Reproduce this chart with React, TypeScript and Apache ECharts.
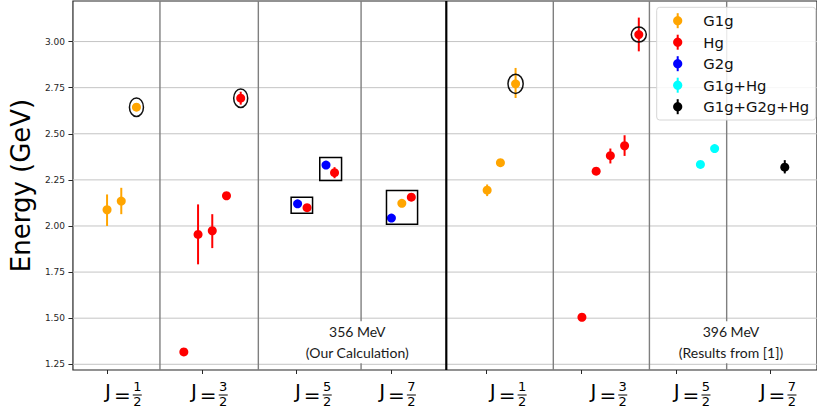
import React, { useEffect, useRef } from "react";
import * as echarts from "echarts";

// ---------- axes ----------
const xRange = [-0.36, 7.49];
const yRange = [1.219, 3.22];
const xTickValues = [0, 1, 2, 3, 4, 5, 6, 7];
const xLabelAnchor = [-0.021, 0.886, 1.983, 2.871, 4.039, 5.101, 5.979, 6.886];
const xLabelNumerators = ["1", "3", "5", "7", "1", "3", "5", "7"];
const xLabelDenominator = "2";
const yTickValues = [1.25, 1.5, 1.75, 2.0, 2.25, 2.5, 2.75, 3.0];
const separatorX = [0.558, 1.596, 2.68, 3.579, 4.708, 5.722, 6.537];
const thickSeparatorIndex = 3;

// ---------- series ----------
const seriesNames = ["G1g", "Hg", "G2g", "G1g+Hg", "G1g+G2g+Hg"];

const g1gX = [0.0, 0.15, 0.31, 3.11, 4.01, 4.15, 4.31];
const g1gY = [2.088, 2.135, 2.644, 2.123, 2.194, 2.343, 2.771];
const g1gLo = [2.0, 2.064, null, null, 2.162, null, 2.694];
const g1gHi = [2.171, 2.207, null, null, 2.225, null, 2.857];

const hgX = [0.81, 0.96, 1.11, 1.26, 1.41, 2.11, 2.4, 3.21, 5.01, 5.16, 5.31, 5.46, 5.61];
const hgY = [1.317, 1.954, 1.974, 2.164, 2.693, 2.099, 2.289, 2.156, 1.505, 2.297, 2.381, 2.435, 3.038];
const hgLo = [null, 1.792, 1.88, null, 2.658, null, 2.259, null, null, null, 2.339, 2.38, 2.947];
const hgHi = [null, 2.117, 2.064, null, 2.728, null, 2.319, null, null, null, 2.42, 2.492, 3.13];

const g2gX = [2.01, 2.31, 3.0];
const g2gY = [2.12, 2.33, 2.043];
const g2gLo = [null, null, null];
const g2gHi = [null, null, null];

const g1gHgX = [6.26, 6.41];
const g1gHgY = [2.334, 2.42];
const g1gHgLo = [null, null];
const g1gHgHi = [null, null];

const allX = [7.15];
const allY = [2.319];
const allLo = [2.285];
const allHi = [2.357];

// highlighted points (rings) and boxes, in data units
const ringCenters = [
  [0.31, 2.644],
  [1.41, 2.693],
  [4.31, 2.771],
  [5.61, 3.038],
];
const boxes = [
  // x0, y0, x1, y1
  [1.942, 2.069, 2.168, 2.156],
  [2.244, 2.246, 2.474, 2.371],
  [2.948, 2.01, 3.276, 2.193],
];

// annotations
const annotX = [2.64, 6.582];
const annotY = [1.369, 1.369];
const annotTexts = [
  ["356 MeV", "(Our Calculation)"],
  ["396 MeV", "(Results from [1])"],
];

// ---------- styles ----------
const COLORS = ["#ffa500", "#ff0000", "#0000ff", "#00ffff", "#000000"];
const RING_SIZES = [
  [7, 9.3],
  [7, 9.3],
  [7.6, 9.6],
  [7.5, 7.5],
];
const FONT = "DejaVu Sans";
const LEGEND_BOX = { x: 656.7, y: 7.3, w: 159, h: 112.7 };
const LEGEND_MARKER_X = 677.7;
const LEGEND_TEXT_X = 703.3;
const LEGEND_ROW0 = 20.7;
const LEGEND_ROW_STEP = 21.5;
const LEGEND_Z = 100;

const seriesX = [g1gX, hgX, g2gX, g1gHgX, allX];
const seriesY = [g1gY, hgY, g2gY, g1gHgY, allY];
const seriesLo = [g1gLo, hgLo, g2gLo, g1gHgLo, allLo];
const seriesHi = [g1gHi, hgHi, g2gHi, g1gHgHi, allHi];

export default function App() {
  const ref = useRef<HTMLDivElement>(null);

  useEffect(() => {
    if (!ref.current) return;
    const chart = echarts.init(ref.current, undefined, { renderer: "svg" });

    const errData: number[][] = [];
    const errColor: string[] = [];
    seriesX.forEach((xs, s) => {
      xs.forEach((x, i) => {
        const lo = seriesLo[s][i];
        const hi = seriesHi[s][i];
        if (lo != null && hi != null) {
          errData.push([x, lo, hi]);
          errColor.push(COLORS[s]);
        }
      });
    });

    const scatterSeries = seriesNames.map((name, s) => ({
      name,
      type: "scatter",
      data: seriesX[s].map((x, i) => [x, seriesY[s][i]]),
      symbol: "circle",
      symbolSize: 9,
      itemStyle: { color: COLORS[s], opacity: 1 },
      silent: true,
      z: 6,
    }));

    // legend drawn as graphic elements
    const legendChildren: any[] = [
      {
        type: "rect",
        z: LEGEND_Z,
        shape: { x: LEGEND_BOX.x, y: LEGEND_BOX.y, width: LEGEND_BOX.w, height: LEGEND_BOX.h, r: 3 },
        style: { fill: "rgba(255,255,255,0.85)", stroke: "#d6d6d6", lineWidth: 1 },
      },
    ];
    seriesNames.forEach((name, i) => {
      const cy = LEGEND_ROW0 + i * LEGEND_ROW_STEP;
      legendChildren.push(
        {
          type: "line",
          z: LEGEND_Z + 1,
          shape: { x1: LEGEND_MARKER_X, y1: cy - 7.5, x2: LEGEND_MARKER_X, y2: cy + 7.5 },
          style: { stroke: COLORS[i], lineWidth: 2 },
        },
        {
          type: "circle",
          z: LEGEND_Z + 2,
          shape: { cx: LEGEND_MARKER_X, cy, r: 4.6 },
          style: { fill: COLORS[i] },
        },
        {
          type: "text",
          z: LEGEND_Z + 2,
          x: LEGEND_TEXT_X,
          y: cy,
          style: {
            text: name,
            fontFamily: FONT,
            fontSize: 14.8,
            fill: "#111",
            align: "left",
            verticalAlign: "middle",
          },
        }
      );
    });

    const option: any = {
      animation: false,
      textStyle: { fontFamily: FONT },
      grid: {
        left: 71,
        top: 1,
        width: 751,
        height: 369,
        show: true,
        borderColor: "#262626",
        borderWidth: 1.2,
        backgroundColor: "#fff",
      },
      graphic: { elements: legendChildren.map((e) => ({ ...e, silent: true })) },
      xAxis: {
        type: "value",
        min: xRange[0],
        max: xRange[1],
        axisLine: { show: false, onZero: false },
        axisTick: {
          show: true,
          customValues: xTickValues,
          length: 4,
          lineStyle: { color: "#262626", width: 1 },
        },
        axisLabel: { show: false },
        splitLine: { show: false },
      },
      yAxis: {
        type: "value",
        min: yRange[0],
        max: yRange[1],
        name: "Energy (GeV)",
        nameLocation: "middle",
        nameGap: 36,
        nameTextStyle: { fontSize: 26, color: "#000", fontFamily: FONT },
        axisLine: { show: false, onZero: false },
        axisTick: {
          show: true,
          customValues: yTickValues,
          length: 4.5,
          lineStyle: { color: "#262626", width: 1 },
        },
        axisLabel: {
          customValues: yTickValues,
          formatter: (v: number) => v.toFixed(2),
          fontSize: 9,
          color: "#262626",
          margin: 8,
          fontFamily: FONT,
        },
        splitLine: { show: false },
      },
      series: [
        // horizontal grid lines
        {
          type: "custom",
          silent: true,
          z: 1,
          data: yTickValues.map((v) => [xRange[0], v]),
          encode: { x: 0, y: 1 },
          renderItem: (params: any, api: any) => {
            const cs = params.coordSys;
            const p = api.coord([xRange[0], api.value(1)]);
            return {
              type: "line",
              shape: { x1: cs.x, y1: p[1], x2: cs.x + cs.width, y2: p[1] },
              style: { stroke: "#c4c4c4", lineWidth: 1 },
            };
          },
        },
        // vertical separators
        {
          type: "custom",
          silent: true,
          z: 2,
          data: separatorX.map((v) => [v, yRange[0]]),
          encode: { x: 0, y: 1 },
          renderItem: (params: any, api: any) => {
            const cs = params.coordSys;
            const p = api.coord([api.value(0), yRange[0]]);
            const thick = params.dataIndex === thickSeparatorIndex;
            return {
              type: "line",
              shape: { x1: p[0], y1: cs.y, x2: p[0], y2: cs.y + cs.height },
              style: { stroke: thick ? "#000" : "#7f7f7f", lineWidth: thick ? 2.2 : 1.4 },
            };
          },
        },
        // annotation texts
        {
          type: "custom",
          silent: true,
          z: 3,
          data: annotX.map((x, i) => [x, annotY[i]]),
          encode: { x: 0, y: 1 },
          renderItem: (params: any, api: any) => {
            const p = api.coord([api.value(0), api.value(1)]);
            const t = annotTexts[params.dataIndex];
            return {
              type: "text",
              x: p[0],
              y: p[1],
              style: {
                text: t[0] + "\n" + t[1],
                fontFamily: "Lato",
                fontSize: 14,
                lineHeight: 21,
                fill: "#1a1a1a",
                align: "center",
                verticalAlign: "middle",
                backgroundColor: "#fff",
                padding: [0, 4],
              },
            };
          },
        },
        // error bars
        {
          type: "custom",
          silent: true,
          z: 5,
          data: errData,
          encode: { x: 0, y: [1, 2] },
          renderItem: (params: any, api: any) => {
            const a = api.coord([api.value(0), api.value(1)]);
            const b = api.coord([api.value(0), api.value(2)]);
            return {
              type: "line",
              shape: { x1: a[0], y1: a[1], x2: b[0], y2: b[1] },
              style: { stroke: errColor[params.dataIndex], lineWidth: 2 },
            };
          },
        },
        ...scatterSeries,
        // rings
        {
          type: "custom",
          silent: true,
          z: 7,
          data: ringCenters,
          encode: { x: 0, y: 1 },
          renderItem: (params: any, api: any) => {
            const p = api.coord([api.value(0), api.value(1)]);
            const s = RING_SIZES[params.dataIndex];
            return {
              type: "ellipse",
              shape: { cx: p[0], cy: p[1], rx: s[0], ry: s[1] },
              style: { fill: "none", stroke: "#111", lineWidth: 1.5 },
            };
          },
        },
        // boxes
        {
          type: "custom",
          silent: true,
          z: 7,
          data: boxes,
          encode: { x: [0, 2], y: [1, 3] },
          renderItem: (params: any, api: any) => {
            const a = api.coord([api.value(0), api.value(3)]);
            const b = api.coord([api.value(2), api.value(1)]);
            return {
              type: "rect",
              shape: { x: a[0], y: a[1], width: b[0] - a[0], height: b[1] - a[1] },
              style: { fill: "none", stroke: "#000", lineWidth: 1.5 },
            };
          },
        },
        // x tick labels  J = n/2
        {
          type: "custom",
          silent: true,
          z: 8,
          data: xLabelAnchor.map((v) => [v, yRange[0]]),
          encode: { x: 0, y: 1 },
          renderItem: (params: any, api: any) => {
            const cs = params.coordSys;
            const px = api.coord([api.value(0), yRange[0]])[0];
            const base = cs.y + cs.height;
            const num = xLabelNumerators[params.dataIndex];
            const txt = (text: string, x: number, y: number, size: number) => ({
              type: "text",
              x,
              y,
              style: {
                text,
                fontFamily: FONT,
                fontSize: size,
                fill: "#000",
                align: "center",
                verticalAlign: "middle",
              },
            });
            return {
              type: "group",
              children: [
                txt("J", px + 2.9, base + 21.1, 20),
                txt("=", px + 17.2, base + 24.5, 20),
                txt(num, px + 32.2, base + 16.7, 13),
                {
                  type: "line",
                  shape: { x1: px + 27.7, y1: base + 25, x2: px + 36.7, y2: base + 25 },
                  style: { stroke: "#000", lineWidth: 1 },
                },
                txt(xLabelDenominator, px + 32.2, base + 31.5, 13),
              ],
            };
          },
        },
      ],
    };

    chart.setOption(option);
    return () => chart.dispose();
  }, []);

  return (
    <div
      ref={ref}
      style={{ position: "absolute", left: 0, top: 0, width: 817, height: 412, background: "#fff" }}
    />
  );
}
